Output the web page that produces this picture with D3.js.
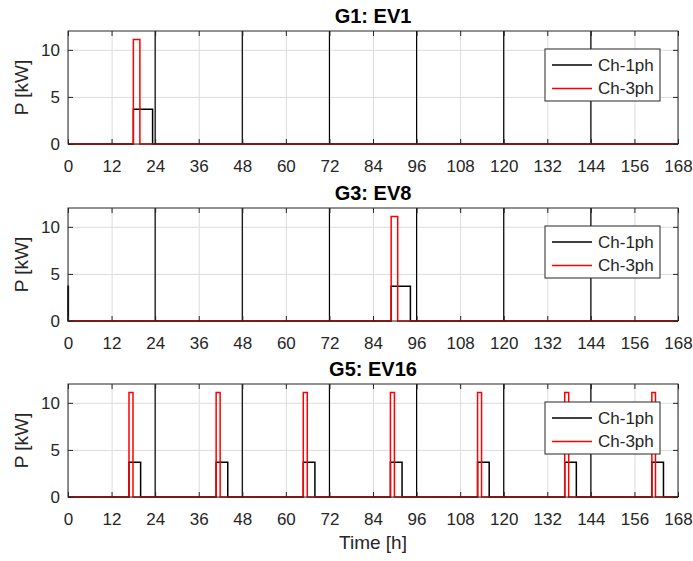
<!DOCTYPE html>
<meta charset="utf-8">
<head>
    <script src="https://d3js.org/d3.v7.min.js"></script>
</head>
<style>
    body { margin: 0; background: white; }
    svg text { font-family: 'Liberation Sans', Arial, sans-serif; fill: #262626; }
    .axis path, .axis line { stroke: #262626; }
    .grid line { stroke: #dcdcdc; stroke-width: 1px; }
    .grid path { display: none; }
</style>
<div id="my_dataviz"></div>
<script>

    // time axis ticks (hours) and power ticks (kW)
    var xTicks = [0, 12, 24, 36, 48, 60, 72, 84, 96, 108, 120, 132, 144, 156, 168];
    var yTicks = [0, 5, 10];
    var dayLines = [24, 48, 72, 96, 120, 144];
    var seriesNames = ["Ch-1ph", "Ch-3ph"];
    var titles = ["G1: EV1", "G3: EV8", "G5: EV16"];

    // charging pulses: [start h, end h, power kW]
    var g1_1ph = [[18, 23.3, 3.7]];
    var g1_3ph = [[18, 19.8, 11.1]];
    var g3_1ph = [[0, 0.1, 3.7], [89, 94.3, 3.7]];
    var g3_3ph = [[89, 90.8, 11.1]];
    var g5_1ph = [[16.8, 20, 3.7], [40.8, 44, 3.7], [64.8, 68, 3.7], [88.8, 92, 3.7],
                  [112.8, 116, 3.7], [136.8, 140, 3.7], [160.8, 164, 3.7]];
    var g5_3ph = [[16.8, 17.9, 11.1], [40.8, 41.9, 11.1], [64.8, 65.9, 11.1], [88.8, 89.9, 11.1],
                  [112.8, 113.9, 11.1], [136.8, 137.9, 11.1], [160.8, 161.8, 11.1]];

    var panels = [
        {title: titles[0], s1: g1_1ph, s3: g1_3ph},
        {title: titles[1], s1: g3_1ph, s3: g3_3ph},
        {title: titles[2], s1: g5_1ph, s3: g5_3ph}
    ];

    var W = 693, H = 561;
    var left = 68, right = 678;
    var panelTops = [31, 208, 384];
    var ph = 113;

    var svg = d3.select("#my_dataviz")
        .append("svg")
        .attr("width", W)
        .attr("height", H);

    var x = d3.scaleLinear().domain([0, 168]).range([left, right]);

    // turn pulse list into step points
    function steps(pulses) {
        var pts = [[0, 0]];
        pulses.forEach(function(p) {
            pts.push([p[0], 0], [p[0], p[2]], [p[1], p[2]], [p[1], 0]);
        });
        pts.push([168, 0]);
        return pts;
    }

    panels.forEach(function(pan, i) {
        var top = panelTops[i], bottom = top + ph;
        var y = d3.scaleLinear().domain([0, 12]).range([bottom, top]);
        var g = svg.append("g");

        // grid
        g.append("g").attr("class", "grid")
            .attr("transform", "translate(0," + bottom + ")")
            .call(d3.axisBottom(x).tickValues(xTicks).tickSize(-ph).tickFormat(""));
        g.append("g").attr("class", "grid")
            .attr("transform", "translate(" + left + ",0)")
            .call(d3.axisLeft(y).tickValues(yTicks).tickSize(-(right - left)).tickFormat(""));

        // day separators
        g.selectAll(".day").data(dayLines).enter().append("line")
            .attr("x1", function(d) { return x(d); })
            .attr("x2", function(d) { return x(d); })
            .attr("y1", top).attr("y2", bottom)
            .attr("stroke", "black").attr("stroke-width", 1.2);

        var line = d3.line().x(function(d) { return x(d[0]); }).y(function(d) { return y(d[1]); });

        g.append("path").datum(steps(pan.s1))
            .attr("d", line).attr("fill", "none")
            .attr("stroke", "black").attr("stroke-width", 1.5);
        g.append("path").datum(steps(pan.s3))
            .attr("d", line).attr("fill", "none")
            .attr("stroke", "#ff0000").attr("stroke-width", 1.5);

        // axes (ticks inside, box)
        var xa = g.append("g").attr("class", "axis")
            .attr("transform", "translate(0," + bottom + ")")
            .call(d3.axisBottom(x).tickValues(xTicks).tickSize(-5).tickPadding(16));
        g.append("g").attr("class", "axis")
            .attr("transform", "translate(0," + top + ")")
            .call(d3.axisTop(x).tickValues(xTicks).tickSize(-5).tickFormat(""));
        var ya = g.append("g").attr("class", "axis")
            .attr("transform", "translate(" + left + ",0)")
            .call(d3.axisLeft(y).tickValues(yTicks).tickSize(-5).tickPadding(8));
        g.append("g").attr("class", "axis")
            .attr("transform", "translate(" + right + ",0)")
            .call(d3.axisRight(y).tickValues(yTicks).tickSize(-5).tickFormat(""));
        xa.selectAll("text").style("font-size", "17px");
        ya.selectAll("text").style("font-size", "17px");
        g.selectAll(".axis .domain").remove();
        g.append("rect")
            .attr("x", left).attr("y", top)
            .attr("width", right - left).attr("height", ph)
            .attr("fill", "none").attr("stroke", "#262626").attr("stroke-width", 1);

        // title
        g.append("text")
            .attr("x", (left + right) / 2).attr("y", top - 8)
            .attr("text-anchor", "middle")
            .style("font-size", "20px").style("font-weight", "bold")
            .style("fill", "black")
            .text(pan.title);

        // y label
        g.append("text")
            .attr("transform", "rotate(-90)")
            .attr("x", -(top + bottom) / 2).attr("y", 28)
            .attr("text-anchor", "middle")
            .style("font-size", "19px")
            .text("P [kW]");

        // legend
        var lg = g.append("g").attr("transform", "translate(545," + (top + 18) + ")");
        lg.append("rect").attr("width", 115).attr("height", 52)
            .attr("fill", "white").attr("stroke", "#262626").attr("stroke-width", 1);
        seriesNames.forEach(function(n, k) {
            var yy = 16 + k * 23.5;
            lg.append("line").attr("x1", 7).attr("x2", 47).attr("y1", yy).attr("y2", yy)
                .attr("stroke", k === 0 ? "black" : "#ff0000").attr("stroke-width", 1.5);
            lg.append("text").attr("x", 53).attr("y", yy).attr("dy", "0.35em")
                .style("font-size", "17px").text(n);
        });
    });

    // x label
    svg.append("text")
        .attr("x", (left + right) / 2).attr("y", 549)
        .attr("text-anchor", "middle")
        .style("font-size", "19px")
        .text("Time [h]");

</script>
